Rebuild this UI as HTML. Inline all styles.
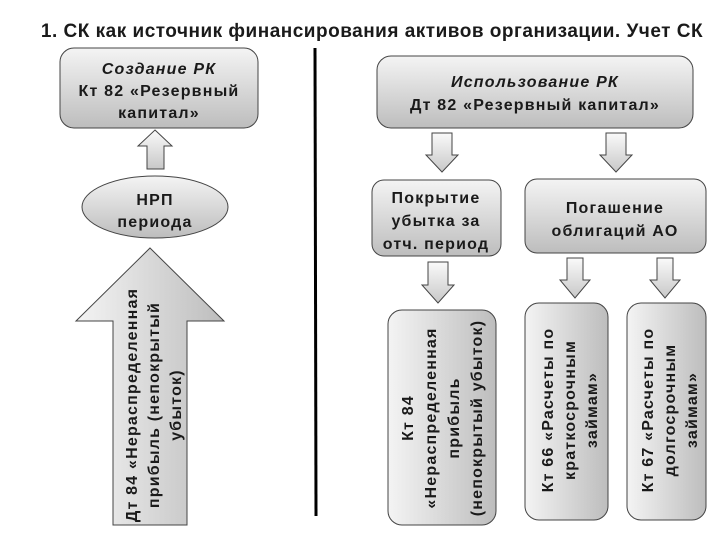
<!DOCTYPE html>
<html><head><meta charset="utf-8"><style>
body{margin:0;background:#fff}
svg{display:block;font-family:"Liberation Sans","DejaVu Sans",sans-serif}
text{fill:#1a1a1a;font-weight:bold;letter-spacing:1.2px}
</style></head><body>
<svg width="720" height="540" viewBox="0 0 720 540">
<defs>
<linearGradient id="g" x1="0" y1="0" x2="0" y2="1"><stop offset="0" stop-color="#f4f4f4"/><stop offset="1" stop-color="#bdbdbd"/></linearGradient>
<linearGradient id="gh" x1="0" y1="0" x2="1" y2="0"><stop offset="0" stop-color="#f4f4f4"/><stop offset="1" stop-color="#bdbdbd"/></linearGradient>
<linearGradient id="ga" x1="0" y1="0" x2="0" y2="1"><stop offset="0" stop-color="#fafafa"/><stop offset="1" stop-color="#c8c8c8"/></linearGradient>
</defs>
<text x="372" y="37" font-size="19" text-anchor="middle" fill="#111" style="letter-spacing:0.5px">1. СК как источник финансирования активов организации. Учет СК</text>

<rect x="60" y="48" width="198" height="80" rx="14" fill="url(#g)" stroke="#444"/>
<text x="159" y="74" font-size="16" text-anchor="middle" font-style="italic" fill="#1f2f45">Создание РК</text>
<text x="159" y="96" font-size="16" text-anchor="middle">Кт 82 «Резервный</text>
<text x="159" y="118" font-size="16" text-anchor="middle">капитал»</text>

<polygon points="155,130 172,146 164,146 164,169 147,169 147,146 138,146" fill="url(#ga)" stroke="#444"/>
<ellipse cx="155" cy="207" rx="73" ry="31" fill="url(#g)" stroke="#444"/>
<text x="155" y="205" font-size="16" text-anchor="middle">НРП</text>
<text x="155" y="227" font-size="16" text-anchor="middle">периода</text>

<polygon points="150,248 224,321 187,321 187,525 113,525 113,321 76,321" fill="url(#gh)" stroke="#444"/>
<g transform="translate(150,405) rotate(-90)" font-size="16" text-anchor="middle">
<text x="0" y="-13">Дт 84 «Нераспределенная</text>
<text x="0" y="9">прибыль (непокрытый</text>
<text x="0" y="31">убыток)</text>
</g>

<line x1="315" y1="48" x2="316" y2="516" stroke="#000" stroke-width="3"/>

<rect x="377" y="56" width="316" height="72" rx="14" fill="url(#g)" stroke="#444"/>
<text x="535" y="87" font-size="16" text-anchor="middle" font-style="italic" fill="#1f2f45">Использование РК</text>
<text x="535" y="110" font-size="16" text-anchor="middle">Дт 82 «Резервный капитал»</text>

<polygon points="432,133 452,133 452,155 458,155 442,172 426,155 432,155" fill="url(#ga)" stroke="#444"/>
<polygon points="606,133 626,133 626,155 632,155 616,172 600,155 606,155" fill="url(#ga)" stroke="#444"/>

<rect x="372" y="180" width="129" height="76" rx="12" fill="url(#g)" stroke="#444"/>
<text x="436" y="203" font-size="16" text-anchor="middle">Покрытие</text>
<text x="436" y="226" font-size="16" text-anchor="middle">убытка за</text>
<text x="436" y="249" font-size="16" text-anchor="middle">отч. период</text>

<rect x="525" y="179" width="181" height="74" rx="12" fill="url(#g)" stroke="#444"/>
<text x="615" y="213" font-size="16" text-anchor="middle">Погашение</text>
<text x="615" y="236" font-size="16" text-anchor="middle">облигаций АО</text>

<polygon points="428,262 448,262 448,285 454,285 438,303 422,285 428,285" fill="url(#ga)" stroke="#444"/>
<polygon points="567,258 583,258 583,280 590,280 575,298 560,280 567,280" fill="url(#ga)" stroke="#444"/>
<polygon points="657,258 673,258 673,280 680,280 665,298 650,280 657,280" fill="url(#ga)" stroke="#444"/>

<rect x="388" y="310" width="108" height="215" rx="14" fill="url(#gh)" stroke="#444"/>
<g transform="translate(442,418) rotate(-90)" font-size="16" text-anchor="middle">
<text x="0" y="-29">Кт 84</text>
<text x="0" y="-6">«Нераспределенная</text>
<text x="0" y="17">прибыль</text>
<text x="0" y="40">(непокрытый убыток)</text>
</g>

<rect x="525" y="303" width="83" height="217" rx="14" fill="url(#gh)" stroke="#444"/>
<g transform="translate(566,410) rotate(-90)" font-size="16" text-anchor="middle">
<text x="0" y="-13">Кт 66 «Расчеты по</text>
<text x="0" y="9">краткосрочным</text>
<text x="0" y="31">займам»</text>
</g>

<rect x="627" y="303" width="79" height="217" rx="14" fill="url(#gh)" stroke="#444"/>
<g transform="translate(666,410) rotate(-90)" font-size="16" text-anchor="middle">
<text x="0" y="-13">Кт 67  «Расчеты по</text>
<text x="0" y="9">долгосрочным</text>
<text x="0" y="31">займам»</text>
</g>
</svg>
</body></html>
